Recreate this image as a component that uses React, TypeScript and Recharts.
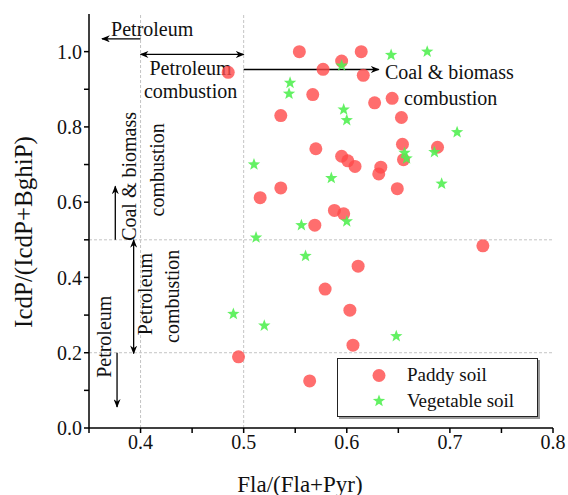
import React from "react";
import {
  ScatterChart,
  Scatter,
  XAxis,
  YAxis,
  ReferenceLine,
  ReferenceDot,
  Legend,
} from "recharts";

// Fla/(Fla+Pyr) vs IcdP/(IcdP+BghiP)
const paddyX = [
  0.485, 0.554, 0.577, 0.567, 0.536, 0.57, 0.536, 0.516, 0.595, 0.614, 0.616,
  0.627, 0.644, 0.653, 0.654, 0.655, 0.688, 0.595, 0.601, 0.608, 0.633, 0.631,
  0.649, 0.588, 0.597, 0.569, 0.579, 0.495, 0.564, 0.732, 0.611, 0.603, 0.606,
];
const paddyY = [
  0.945, 1.0, 0.953, 0.886, 0.83, 0.742, 0.638, 0.612, 0.975, 1.0, 0.937,
  0.864, 0.876, 0.825, 0.754, 0.713, 0.746, 0.722, 0.71, 0.695, 0.693, 0.675,
  0.636, 0.578, 0.569, 0.539, 0.369, 0.189, 0.125, 0.484, 0.43, 0.313, 0.22,
];
const vegX = [
  0.545, 0.544, 0.51, 0.595, 0.643, 0.678, 0.597, 0.6, 0.707, 0.656, 0.658,
  0.685, 0.585, 0.692, 0.556, 0.512, 0.56, 0.49, 0.52, 0.6, 0.648,
];
const vegY = [
  0.917, 0.888, 0.7, 0.963, 0.991, 1.0, 0.846, 0.818, 0.786, 0.731, 0.716,
  0.733, 0.664, 0.649, 0.539, 0.506, 0.457, 0.303, 0.272, 0.549, 0.244,
];

const xTicks = [0.35, 0.4, 0.45, 0.5, 0.55, 0.6, 0.65, 0.7, 0.75, 0.8];
const yTicks = [0, 0.1, 0.2, 0.3, 0.4, 0.5, 0.6, 0.7, 0.8, 0.9, 1.0];

const paddy = paddyX.map((x, i) => ({ x, y: paddyY[i] }));
const vegetable = vegX.map((x, i) => ({ x, y: vegY[i] }));

const FONT = '"Liberation Serif", "Times New Roman", serif';
const RED = "#ff4a4a";
const GREEN = "#52f052";

function starPath(cx: number, cy: number, ro: number, ri: number) {
  let d = "";
  for (let i = 0; i < 10; i++) {
    const r = i % 2 === 0 ? ro : ri;
    const a = -Math.PI / 2 + (i * Math.PI) / 5;
    d += (i === 0 ? "M" : "L") + (cx + r * Math.cos(a)) + "," + (cy + r * Math.sin(a));
  }
  return d + "Z";
}

const Circle = (p: any) => (
  <circle cx={p.cx} cy={p.cy} r={6.5} fill={RED} fillOpacity={0.8} />
);
const Star = (p: any) => (
  <path d={starPath(p.cx, p.cy, 6.5, 2.7)} fill={GREEN} fillOpacity={0.9} />
);

// annotation text placed in data coords
const note = (label: string, vertical = false) => (p: any) => {
  const { cx, cy } = p;
  return (
    <text
      x={cx}
      y={cy}
      textAnchor="middle"
      dominantBaseline="central"
      fontFamily={FONT}
      fontSize={20}
      fill="#111"
      transform={vertical ? `rotate(-90 ${cx} ${cy})` : undefined}
    >
      {label}
    </text>
  );
};

const arrow = (start: boolean) => (p: any) => (
  <line
    x1={p.x1}
    y1={p.y1}
    x2={p.x2}
    y2={p.y2}
    stroke="#000"
    strokeWidth={1.3}
    markerEnd="url(#arrowHead)"
    markerStart={start ? "url(#arrowHead)" : undefined}
  />
);

const renderLegend = () => (
  <div
    style={{
      width: 199,
      height: 57,
      border: "1px solid #222",
      boxShadow: "2px 2px 0 #9a9a9a",
      background: "#fff",
      fontFamily: FONT,
      fontSize: 19,
      color: "#111",
      position: "relative",
    }}
  >
    <svg width={30} height={57} style={{ position: "absolute", left: 26, top: 0 }}>
      <circle cx={15} cy={16.5} r={6.5} fill={RED} fillOpacity={0.8} />
      <path d={starPath(15, 42, 6.5, 2.7)} fill={GREEN} fillOpacity={0.9} />
    </svg>
    <div style={{ position: "absolute", left: 69, top: 5 }}>Paddy soil</div>
    <div style={{ position: "absolute", left: 69, top: 31 }}>Vegetable soil</div>
  </div>
);

const tickStyle = { fontFamily: FONT, fontSize: 20, fill: "#111" };

export default function App() {
  return (
    <div style={{ position: "absolute", left: 0, top: 0, background: "#fff" }}>
      <ScatterChart
        width={568}
        height={495}
        margin={{ top: 14, right: 15, left: 0, bottom: 0 }}
      >
        <defs>
          <marker
            id="arrowHead"
            viewBox="0 0 10 8"
            refX={9}
            refY={4}
            markerWidth={9}
            markerHeight={7}
            markerUnits="userSpaceOnUse"
            orient="auto-start-reverse"
          >
            <path d="M0,0 L10,4 L0,8 L3,4 Z" fill="#000" />
          </marker>
        </defs>

        <XAxis
          type="number"
          dataKey="x"
          domain={[0.35, 0.8]}
          ticks={xTicks}
          height={67}
          stroke="#000"
          strokeWidth={1.5}
          tickSize={5}
          tick={tickStyle}
          tickFormatter={(v: number) =>
            Math.round(v * 100) % 10 === 0 ? v.toFixed(1) : ""
          }
          label={{
            content: () => (
              <text
                x={300}
                y={484}
                textAnchor="middle"
                dominantBaseline="central"
                fontFamily={FONT}
                fontSize={23}
                fill="#111"
              >
                Fla/(Fla+Pyr)
              </text>
            ),
          }}
        />
        <XAxis
          xAxisId="top"
          orientation="top"
          type="number"
          dataKey="x"
          domain={[0.35, 0.8]}
          ticks={xTicks}
          height={0}
          stroke="#000"
          strokeWidth={1.5}
          tickSize={2}
          tick={false}
        />
        <YAxis
          type="number"
          dataKey="y"
          domain={[0, 1.1]}
          ticks={yTicks}
          width={89}
          stroke="#000"
          strokeWidth={1.5}
          tickSize={5}
          tick={tickStyle}
          tickFormatter={(v: number) =>
            Math.round(v * 10) % 2 === 0 ? v.toFixed(1) : ""
          }
          label={{
            content: () => (
              <text
                x={23}
                y={232}
                textAnchor="middle"
                dominantBaseline="central"
                fontFamily={FONT}
                fontSize={25}
                fill="#111"
                transform="rotate(-90 23 232)"
              >
                IcdP/(IcdP+BghiP)
              </text>
            ),
          }}
        />
        <YAxis
          yAxisId="right"
          orientation="right"
          type="number"
          dataKey="y"
          domain={[0, 1.1]}
          ticks={yTicks}
          width={0}
          stroke="#000"
          strokeWidth={1.5}
          tickSize={2}
          tick={false}
        />

        <ReferenceLine x={0.4} stroke="#c4c4c4" strokeDasharray="3 2" />
        <ReferenceLine x={0.5} stroke="#c4c4c4" strokeDasharray="3 2" />
        <ReferenceLine y={0.2} stroke="#c4c4c4" strokeDasharray="3 2" />
        <ReferenceLine y={0.5} stroke="#c4c4c4" strokeDasharray="3 2" />

        {/* horizontal source arrows */}
        <ReferenceLine segment={[{ x: 0.4, y: 1.034 }, { x: 0.3626, y: 1.034 }]} shape={arrow(false)} />
        <ReferenceLine segment={[{ x: 0.4, y: 0.9925 }, { x: 0.5, y: 0.9925 }]} shape={arrow(true)} />
        <ReferenceLine segment={[{ x: 0.5, y: 0.9526 }, { x: 0.631, y: 0.9526 }]} shape={arrow(false)} />
        {/* vertical source arrows */}
        <ReferenceLine segment={[{ x: 0.3755, y: 0.5 }, { x: 0.3755, y: 0.642 }]} shape={arrow(false)} />
        <ReferenceLine segment={[{ x: 0.3933, y: 0.5 }, { x: 0.3933, y: 0.198 }]} shape={arrow(true)} />
        <ReferenceLine segment={[{ x: 0.3772, y: 0.2 }, { x: 0.3772, y: 0.056 }]} shape={arrow(false)} />

        <ReferenceDot x={0.4113} y={1.059} shape={note("Petroleum")} />
        <ReferenceDot x={0.4485} y={0.957} shape={note("Petroleum")} />
        <ReferenceDot x={0.4485} y={0.895} shape={note("combustion")} />
        <ReferenceDot x={0.6995} y={0.945} shape={note("Coal & biomass")} />
        <ReferenceDot x={0.7008} y={0.876} shape={note("combustion")} />
        <ReferenceDot x={0.3885} y={0.6685} shape={note("Coal & biomass", true)} />
        <ReferenceDot x={0.416} y={0.686} shape={note("combustion", true)} />
        <ReferenceDot x={0.4047} y={0.356} shape={note("Petroleum", true)} />
        <ReferenceDot x={0.4306} y={0.35} shape={note("combustion", true)} />
        <ReferenceDot x={0.3642} y={0.2425} shape={note("Petroleum", true)} />

        <Scatter name="Paddy soil" data={paddy} shape={Circle} isAnimationActive={false} />
        <Scatter name="Vegetable soil" data={vegetable} shape={Star} isAnimationActive={false} />

        <Legend
          layout="vertical"
          align="center"
          verticalAlign="middle"
          content={renderLegend}
          wrapperStyle={{ left: 337, top: 358, width: 201, height: 59 }}
        />
      </ScatterChart>
    </div>
  );
}
